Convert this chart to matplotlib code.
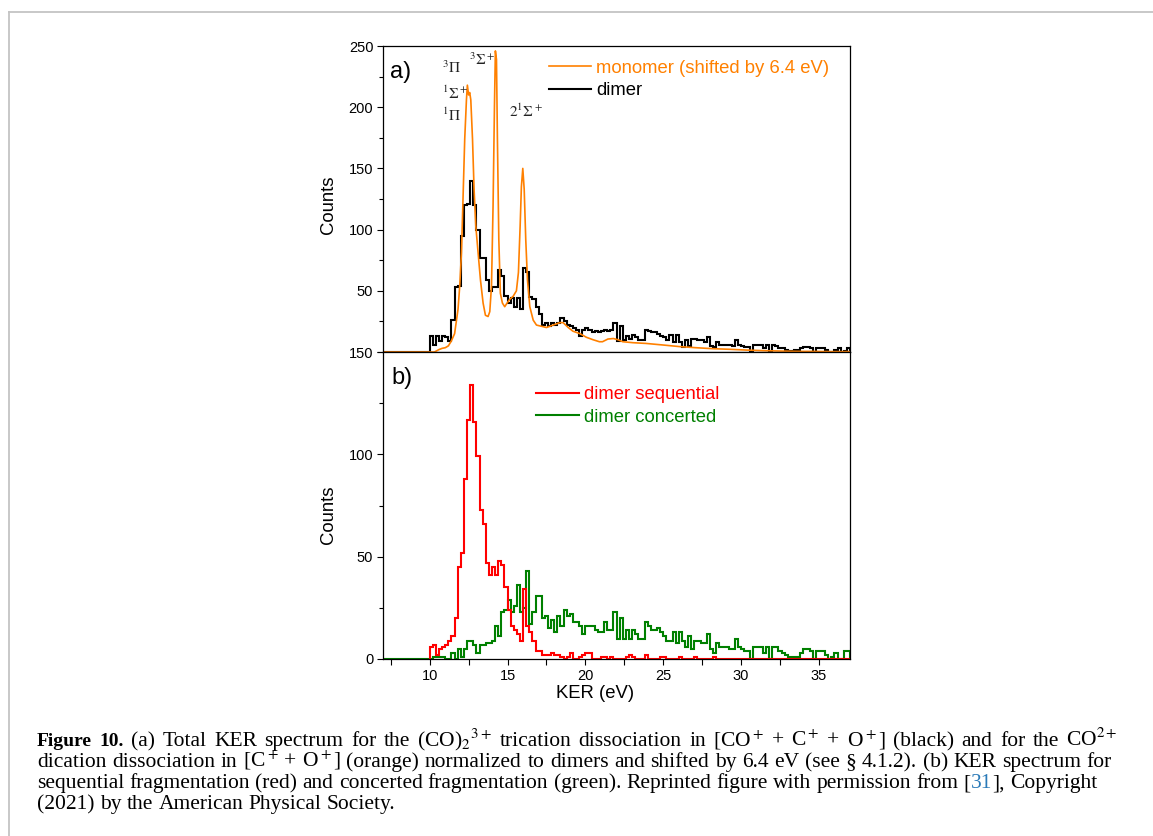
import numpy as np
import matplotlib
matplotlib.use("Agg")
import matplotlib.pyplot as plt
from matplotlib.ticker import MultipleLocator, FuncFormatter
from matplotlib.lines import Line2D

plt.rcParams["font.family"] = ["Liberation Sans", "DejaVu Sans"]
plt.rcParams["mathtext.fontset"] = "stix"

# ── Data ─────────────────────────────────────────────────────────────────────
X_MIN, X_MAX = 7.0, 37.0
BIN_START = 10.0   # eV, first histogram edge
BIN_WIDTH = 0.2    # eV

# (a) dimer total KER, counts per bin starting at 10.0 eV
DIMER = [
    13, 6, 13, 9, 13, 12, 9, 26, 53, 54,
    95, 120, 121, 140, 120, 100, 77, 77, 59, 50,
    53, 53, 67, 62, 46, 40, 44, 37, 44, 35,
    69, 65, 45, 43, 37, 31, 22, 24, 21, 24,
    22, 24, 28, 25, 22, 21, 20, 18, 13, 18,
    20, 18, 16, 17, 16, 17, 18, 17, 18, 24,
    9, 21, 10, 13, 11, 14, 12, 10, 10, 18,
    17, 16, 16, 15, 13, 12, 10, 14, 8, 14,
    8, 4, 10, 5, 11, 11, 10, 10, 8, 12,
    5, 4, 8, 6, 6, 6, 6, 5, 10, 6,
    5, 4, 4, 0, 6, 6, 6, 3, 6, 0,
    6, 5, 3, 3, 2, 1, 1, 2, 2, 3,
    4, 4, 3, 0, 3, 3, 3, 2, 0, 0,
    2, 3, 0, 1, 3,
]

# (a) monomer spectrum shifted by 6.4 eV (fine-binned curve)
MONO_E = [7.0, 10.3, 10.45, 10.6, 10.8, 11.0, 11.2, 11.39, 11.6, 11.82,
          11.93, 12.04, 12.14, 12.25, 12.36, 12.42, 12.5, 12.57, 12.64, 12.75,
          12.85, 12.96, 13.11, 13.26, 13.43, 13.58, 13.75, 13.86, 13.97, 14.07,
          14.16, 14.22, 14.29, 14.35, 14.44, 14.54, 14.67, 14.82, 14.97, 15.14,
          15.36, 15.57, 15.7, 15.81, 15.89, 15.98, 16.07, 16.17, 16.28, 16.43,
          16.65, 16.86, 17.18, 17.5, 17.93, 18.36, 18.57, 18.9, 19.2, 19.65,
          20.07, 20.5, 20.9, 21.1, 21.45, 21.8, 22.1, 22.4, 23.06, 23.9,
          25.0, 26.06, 27.1, 28.2, 29.3, 30.3, 31.4, 32.5, 33.55, 34.6,
          35.7, 37.0]
MONO_C = [0, 0, 1, 2, 3, 3.5, 5, 9, 15, 35,
          54, 81, 125, 174, 206, 218, 210, 212, 206, 174,
          133, 103, 81, 59, 40, 30, 29, 33, 54, 119,
          201, 246, 239, 174, 92, 48, 40, 37, 40, 43,
          45.5, 50, 65, 103, 135, 150, 133, 92, 59, 37,
          26, 22, 21, 20, 22, 24, 24, 20, 17, 15,
          12, 10, 8.4, 8.4, 10.6, 11, 10, 8.4, 7.6, 7,
          5.7, 4.4, 3.5, 2.7, 2.2, 1.6, 1.1, 0.8, 0.5, 0.5,
          0.3, 0.3]

# (b) sequential / concerted fragmentation, counts per bin starting at 10.0 eV
SEQUENTIAL = [
    6, 7, 2, 5, 6, 7, 9, 11, 20, 45,
    52, 88, 117, 134, 116, 99, 73, 66, 47, 41,
    45, 41, 48, 46, 35, 24, 16, 14, 12, 9,
    34, 16, 13, 9, 4, 4, 2, 2, 2, 3,
    2, 2, 1, 0, 1, 3, 0, 0, 1, 2,
    3, 3, 0, 0, 0, 1, 1, 0, 1, 0,
    0, 0, 0, 1, 2, 1, 0, 0, 0, 2,
    0, 0, 0, 0, 1, 1, 0, 0, 0, 0,
    1, 0, 0, 0, 0, 1, 0, 0, 0, 0,
    0, 1, 0, 0, 0, 0, 0, 0, 0, 0,
    0, 0, 0, 0, 0, 0, 0, 0, 0, 0,
    0, 0, 0, 0, 0, 0, 0, 0, 0, 0,
    0, 0, 0, 0, 0, 0, 0, 0, 0, 0,
    0, 0, 0, 0, 0,
]
CONCERTED = [
    0, 1, 1, 1, 1, 0, 0, 3, 0, 5,
    1, 5, 9, 9, 7, 3, 7, 7, 8, 8,
    9, 16, 11, 23, 24, 29, 23, 26, 36, 23,
    25, 43, 17, 23, 31, 31, 20, 21, 15, 19,
    13, 21, 16, 24, 21, 22, 18, 18, 16, 12,
    16, 16, 16, 14, 13, 13, 18, 14, 14, 23,
    10, 20, 10, 14, 10, 14, 12, 10, 10, 18,
    16, 14, 14, 15, 13, 11, 9, 9, 13, 8,
    13, 9, 6, 11, 5, 9, 9, 8, 8, 12,
    5, 3, 8, 6, 6, 6, 5, 5, 10, 6,
    5, 4, 4, 0, 6, 6, 6, 3, 6, 0,
    6, 6, 4, 3, 2, 1, 1, 1, 1, 3,
    5, 5, 4, 0, 4, 4, 4, 2, 0, 1,
    3, 0, 0, 4, 4,
]

ORANGE = "#FF8000"
RED = "#FF0000"
GREEN = "#008000"
LINK = "#2a7ab8"

edges = BIN_START + BIN_WIDTH * np.arange(len(DIMER) + 1)
edges_pad = np.r_[X_MIN, edges]

# ── Figure ───────────────────────────────────────────────────────────────────
W, H = 1153, 836
fig = plt.figure(figsize=(W / 100, H / 100), dpi=100)
fig.patch.set_facecolor("white")

ax_a = fig.add_axes([383 / W, 1 - 352 / H, 467 / W, 306 / H])
ax_b = fig.add_axes([383 / W, 1 - 659 / H, 467 / W, 307 / H])

LEG_KW = dict(loc="upper left", frameon=False, fontsize=13.3,
              handlelength=2.3, handletextpad=0.27, labelspacing=0.3,
              borderpad=0, borderaxespad=0, labelcolor="linecolor")

# panel a
l_mono, = ax_a.plot(MONO_E, MONO_C, color=ORANGE, lw=1.2)
ax_a.stairs(np.r_[0, DIMER], edges_pad, color="black", lw=1.5)
l_dim = Line2D([], [], color="black", lw=1.5)
ax_a.set_ylim(0, 250)
ax_a.legend([l_mono, l_dim], ["monomer (shifted by 6.4 eV)", "dimer"],
            bbox_to_anchor=(0.355, 0.955), **LEG_KW)
ax_a.text(0.014, 0.915, "a)", transform=ax_a.transAxes, fontsize=17,
          va="center", ha="left")

# state labels
term_kw = dict(fontsize=11, ha="left", va="center", color="#222222")
ax_a.text(10.77, 232, r"$^3\Pi$", **term_kw)
ax_a.text(10.8, 211.5, r"$^1\Sigma^+$", **term_kw)
ax_a.text(10.77, 193, r"$^1\Pi$", **term_kw)
ax_a.text(12.5, 239, r"$^3\Sigma^+$", **term_kw)
ax_a.text(15.08, 197, r"$2^1\Sigma^+$", **term_kw)

# panel b
ax_b.stairs(np.r_[0, CONCERTED], edges_pad, color=GREEN, lw=1.5)
ax_b.stairs(SEQUENTIAL, edges, color=RED, lw=1.5)
ax_b.set_ylim(0, 150)
h_seq = Line2D([], [], color=RED, lw=1.5)
h_con = Line2D([], [], color=GREEN, lw=1.5)
ax_b.legend([h_seq, h_con], ["dimer sequential", "dimer concerted"],
            bbox_to_anchor=(0.328, 0.889), **LEG_KW)
ax_b.text(0.018, 0.915, "b)", transform=ax_b.transAxes, fontsize=17,
          va="center", ha="left")
ax_b.set_xlabel("KER (eV)", fontsize=13.3)

for ax, ycen in ((ax_a, 0.48), (ax_b, 0.47)):
    ax.set_xlim(X_MIN, X_MAX)
    ax.xaxis.set_major_locator(MultipleLocator(5))
    ax.xaxis.set_minor_locator(MultipleLocator(2.5))
    ax.yaxis.set_major_locator(MultipleLocator(50))
    ax.yaxis.set_minor_locator(MultipleLocator(25))
    ax.tick_params(which="major", direction="out", length=4.5, width=0.8,
                   labelsize=10.5, pad=2.5)
    ax.tick_params(which="minor", direction="out", length=3, width=0.8)
    ax.tick_params(axis="x", which="minor", length=4)
    for s in ax.spines.values():
        s.set_linewidth(0.9)
    ax.set_ylabel("Counts", fontsize=13.3)
    ax.yaxis.set_label_coords(-0.098, ycen)

# the "0" of panel a sits under the "150" of panel b
ax_a.yaxis.set_major_formatter(FuncFormatter(lambda v, p: "" if v == 0 else f"{v:g}"))
ax_a.tick_params(labelbottom=False)
ax_b.xaxis.set_label_coords(0.454, -0.086)

# page frame
fig.add_artist(Line2D([9 / W, 9 / W], [0, 1 - 12 / H], color="#c4c4c4",
                      lw=1.3, transform=fig.transFigure))
fig.add_artist(Line2D([9 / W, 1], [1 - 12 / H, 1 - 12 / H], color="#c4c4c4",
                      lw=1.3, transform=fig.transFigure))

# ── Caption (justified, word by word) ────────────────────────────────────────
CAP_FS = 15.5
cap_font = ["Liberation Serif", "DejaVu Serif"]
renderer = fig.canvas.get_renderer()


def caption_line(words, y_px, x_px=37, right_px=None):
    """words: list of words; a word is a str or a list of (text, style) parts."""
    placed = []
    for word in words:
        parts = [(word, {})] if isinstance(word, str) else word
        texts = []
        for text, kw in parts:
            kw = dict(kw)
            fs = kw.pop("fontsize", CAP_FS)
            t = fig.text(0, 1 - y_px / H, text, fontsize=fs, family=cap_font,
                         va="baseline", ha="left", **kw)
            texts.append((t, t.get_window_extent(renderer).width))
        placed.append(texts)
    widths = [sum(w for _, w in texts) for texts in placed]
    probe = fig.text(0, 0, "a a", fontsize=CAP_FS, family=cap_font)
    sp = probe.get_window_extent(renderer).width
    probe.set_text("aa")
    sp -= probe.get_window_extent(renderer).width
    probe.remove()
    if right_px is not None and len(words) > 1:
        sp = (right_px - x_px - sum(widths)) / (len(words) - 1)
    x = x_px
    for texts, w in zip(placed, widths):
        xx = x
        for t, tw in texts:
            t.set_x(xx / W)
            xx += tw
        x += w + sp


line1 = [[("Figure", dict(weight="bold", fontsize=14))],
         [("10.", dict(weight="bold", fontsize=14))]]
line1 += ("(a) Total KER spectrum for the (CO)$_2$$^{3+}$ trication "
          "dissociation in [CO$^+$ + C$^+$ + O$^+$] (black) and for the "
          "CO$^{2+}$").split(" ")
caption_line(line1, 746, right_px=1118)

line2 = ("dication dissociation in [C$^+$ + O$^+$] (orange) normalized "
         "to dimers and shifted by 6.4 eV (see § 4.1.2). (b) KER "
         "spectrum for").split(" ")
caption_line(line2, 767, right_px=1112)

line3 = ("sequential fragmentation (red) and concerted fragmentation "
         "(green). Reprinted figure with permission from").split(" ")
line3 += [[("[", {}), ("31", dict(color=LINK)), ("],", {})], "Copyright"]
caption_line(line3, 788, right_px=1097)

caption_line("(2021) by the American Physical Society.".split(" "), 809)

fig.savefig("out.png", dpi=100)
